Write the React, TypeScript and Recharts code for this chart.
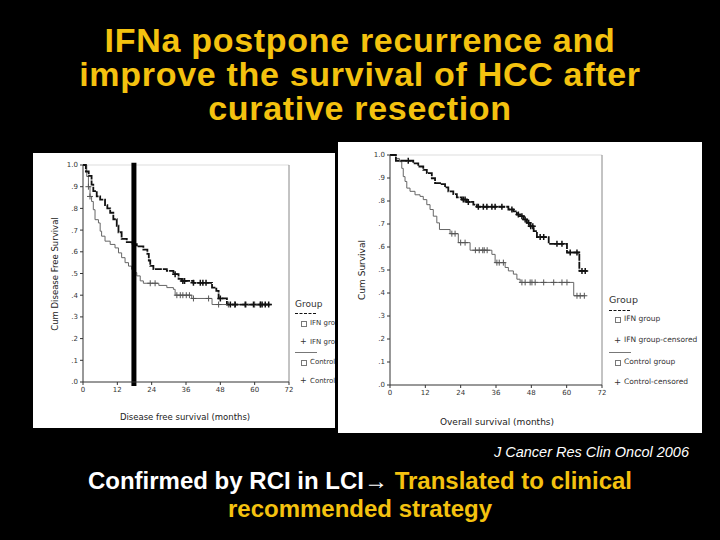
import { ComposedChart, Line, Scatter, XAxis, YAxis, ReferenceLine } from 'recharts'

const monthTicks = [0, 12, 24, 36, 48, 60, 72]
const survTicks = [0, 0.1, 0.2, 0.3, 0.4, 0.5, 0.6, 0.7, 0.8, 0.9, 1]
const survTickLabels = ['.0', '.1', '.2', '.3', '.4', '.5', '.6', '.7', '.8', '.9', '1.0']
const legendLabels = ['IFN group', 'IFN group-censored', 'Control group', 'Control-censored']

// disease free survival (left)
const dfsIfnTime = [0, 1, 2, 3, 3.6, 4.8, 6, 7.7, 8.5, 9.5, 10.6, 11.8, 12.4, 13.5, 15.3, 17, 18.8, 21.1, 22.5, 23, 23.5, 24.6, 29.3, 31.6, 33.4, 34.5, 38.6, 45.1, 46.6, 47.4, 50.3, 66]
const dfsIfnSurv = [1, 0.97, 0.95, 0.91, 0.88, 0.855, 0.84, 0.815, 0.8, 0.78, 0.75, 0.72, 0.69, 0.66, 0.645, 0.635, 0.625, 0.61, 0.59, 0.56, 0.535, 0.52, 0.512, 0.497, 0.475, 0.466, 0.457, 0.435, 0.42, 0.385, 0.357, 0.357]
const dfsIfnCensor = [32.2, 34.9, 35.5, 38.6, 41, 41.9, 43, 48, 51.5, 53.2, 56.7, 59.6, 62, 62.6, 63.7, 64.9]

const dfsCtrlTime = [0, 1.3, 1.9, 2.45, 3, 3.6, 4.2, 5.4, 6, 6.5, 7.7, 9.5, 11.2, 12.4, 13.5, 14.7, 15.9, 17, 17.9, 18.8, 20, 21.1, 26.5, 29.3, 31.6, 32.2, 38, 45.1, 66]
const dfsCtrlSurv = [1, 0.947, 0.9, 0.855, 0.832, 0.794, 0.748, 0.733, 0.695, 0.672, 0.649, 0.634, 0.618, 0.595, 0.573, 0.55, 0.534, 0.519, 0.504, 0.489, 0.466, 0.455, 0.445, 0.435, 0.427, 0.4, 0.385, 0.357, 0.357]
const dfsCtrlCensor = [1.9, 2.45, 23.5, 25.2, 32.8, 34, 34.9, 36.1, 37.2, 38.6, 43.9, 47.4, 50.8, 53, 57, 60, 62]

// overall survival (right)
const osIfnTime = [0, 2, 7.9, 9.6, 11.3, 12.5, 14.2, 15.3, 17, 18.7, 19.8, 21.5, 22.7, 24.4, 26.1, 28.3, 29.5, 40.2, 41.9, 43.1, 44.2, 45.4, 46.5, 47.6, 48.8, 49.9, 53.9, 60.1, 64.3, 67]
const osIfnSurv = [1, 0.975, 0.964, 0.95, 0.935, 0.921, 0.899, 0.878, 0.873, 0.859, 0.842, 0.83, 0.816, 0.806, 0.796, 0.784, 0.775, 0.763, 0.755, 0.741, 0.734, 0.72, 0.705, 0.69, 0.669, 0.643, 0.614, 0.576, 0.496, 0.496]
const osIfnCensor = [6.2, 24.9, 25.5, 26.6, 30, 31.7, 32.9, 34.6, 35.7, 38, 41.4, 43.6, 44.8, 45.9, 47.1, 47.8, 48.5, 51, 52.2, 56.7, 58.4, 61.2, 63.5, 65.2, 66.3]

const osCtrlTime = [0, 2, 3.2, 4, 4.5, 5.1, 5.7, 6.8, 8.5, 10.2, 11.3, 12.5, 13.6, 14.7, 15.9, 16.8, 20.4, 23.2, 27.2, 34.6, 35.7, 39.1, 40.2, 41.9, 43.1, 44.2, 62.4, 66.3]
const osCtrlSurv = [1, 0.985, 0.971, 0.942, 0.906, 0.885, 0.856, 0.842, 0.827, 0.82, 0.806, 0.784, 0.763, 0.734, 0.705, 0.676, 0.658, 0.619, 0.586, 0.568, 0.532, 0.511, 0.496, 0.482, 0.46, 0.446, 0.388, 0.388]
const osCtrlCensor = [21, 22.1, 24, 25.5, 29, 30.3, 31.5, 32, 33, 36.3, 37.1, 38.5, 44.8, 45.9, 47.6, 48.2, 49.3, 52.2, 55.6, 58.4, 60.1, 63.5, 64.6, 66]

const toSteps = (time: number[], surv: number[]) => time.map((t, i) => ({ t, s: surv[i] }))
const survAt = (time: number[], surv: number[], x: number) => {
  let s = surv[0]
  time.forEach((t, i) => {
    if (t <= x) s = surv[i]
  })
  return s
}
const toCensors = (time: number[], surv: number[], cens: number[]) =>
  cens.map((t) => ({ t, s: survAt(time, surv, t) }))

const plus = (color: string, w: number) => (props: any) => {
  const { cx, cy } = props
  return <path d={`M${cx - 3},${cy}h6M${cx},${cy - 3}v6`} stroke={color} strokeWidth={w} fill="none" />
}

const chartFont = 'DejaVu Sans, Verdana, sans-serif'

function KmChart(props: any) {
  const { width, height, margin, ifn, ctrl, bar } = props
  const tick = { fontSize: 7, fill: '#333', fontFamily: chartFont }
  return (
    <ComposedChart width={width} height={height} margin={margin}>
      <XAxis
        type="number"
        dataKey="t"
        domain={[0, 72]}
        ticks={monthTicks}
        interval={0}
        tickSize={3}
        height={25}
        tick={tick}
        stroke="#333"
      />
      <YAxis
        type="number"
        dataKey="s"
        domain={[0, 1]}
        ticks={survTicks}
        interval={0}
        tickSize={3}
        width={20}
        tick={tick}
        stroke="#333"
        tickFormatter={(v: number) => survTickLabels[Math.round(v * 10)]}
      />
      <ReferenceLine y={1} stroke="#ddd" />
      <ReferenceLine x={72} stroke="#888" />
      <Line data={ctrl.steps} dataKey="s" type="stepAfter" stroke="#666" strokeWidth={1} dot={false} isAnimationActive={false} />
      <Line data={ifn.steps} dataKey="s" type="stepAfter" stroke="#111" strokeWidth={1.8} strokeDasharray="7 1" dot={false} isAnimationActive={false} />
      <Scatter data={ctrl.censors} dataKey="s" shape={plus('#555', 1)} isAnimationActive={false} />
      <Scatter data={ifn.censors} dataKey="s" shape={plus('#111', 1.5)} isAnimationActive={false} />
      {bar != null && (
        <ReferenceLine
          segment={[{ x: bar, y: -0.018 }, { x: bar, y: 1.01 }]}
          stroke="#000"
          strokeWidth={5}
          ifOverflow="visible"
        />
      )}
    </ComposedChart>
  )
}

function GroupLegend({ x, rows, font }: { x: number; rows: number[]; font: number }) {
  const txt = (top: number, left: number, s: string, size: number) => (
    <div style={{ position: 'absolute', left, top: top - 7, lineHeight: '14px', fontSize: size, color: '#333', whiteSpace: 'nowrap', fontFamily: chartFont }}>
      {s}
    </div>
  )
  const square = (top: number) => (
    <div style={{ position: 'absolute', left: x + 6, top: top - 2.5, width: 4, height: 4, border: '0.8px solid #777' }} />
  )
  return (
    <>
      {txt(rows[0], x, 'Group', font + 2)}
      <div style={{ position: 'absolute', left: x, top: rows[1], width: 21, borderTop: '1.3px dashed #111' }} />
      {square(rows[2])}
      {txt(rows[2], x + 15, legendLabels[0], font)}
      {txt(rows[3], x + 5, '+', font + 1)}
      {txt(rows[3], x + 15, legendLabels[1], font)}
      <div style={{ position: 'absolute', left: x, top: rows[4], width: 22, borderTop: '1px solid #777' }} />
      {square(rows[5])}
      {txt(rows[5], x + 15, legendLabels[2], font)}
      {txt(rows[6], x + 5, '+', font + 1)}
      {txt(rows[6], x + 15, legendLabels[3], font)}
    </>
  )
}

const axisTitle = (cx: number, cy: number, s: string, size: number, rotate: boolean) => (
  <div
    style={{
      position: 'absolute',
      left: cx,
      top: cy,
      transform: `translate(-50%, -50%)${rotate ? ' rotate(-90deg)' : ''}`,
      fontSize: size,
      color: '#222',
      whiteSpace: 'nowrap',
      fontFamily: chartFont,
    }}
  >
    {s}
  </div>
)

export default function App() {
  const gold = '#F4C20F'
  return (
    <div style={{ position: 'fixed', left: 0, top: 0, width: 720, height: 540, background: '#000', fontFamily: 'Liberation Sans, Arial, sans-serif', overflow: 'hidden' }}>
      <div style={{ position: 'absolute', left: 0, top: 23, width: 720, textAlign: 'center', color: gold, fontWeight: 'bold', fontSize: 34, letterSpacing: 0.7, lineHeight: '34px' }}>
        IFNa postpone recurrence and
        <br />
        improve the survival of HCC after
        <br />
        curative resection
      </div>

      <div style={{ position: 'absolute', left: 33, top: 153, width: 302, height: 275, background: '#fff', overflow: 'hidden' }}>
        <KmChart
          width={302}
          height={275}
          margin={{ top: 12, right: 46, bottom: 21, left: 30 }}
          ifn={{ steps: toSteps(dfsIfnTime, dfsIfnSurv), censors: toCensors(dfsIfnTime, dfsIfnSurv, dfsIfnCensor) }}
          ctrl={{ steps: toSteps(dfsCtrlTime, dfsCtrlSurv), censors: toCensors(dfsCtrlTime, dfsCtrlSurv, dfsCtrlCensor) }}
          bar={17.8}
        />
        {axisTitle(22, 121, 'Cum Disease Free Survival', 8.5, true)}
        {axisTitle(152, 264, 'Disease free survival (months)', 8.5, false)}
        <GroupLegend x={262} rows={[151, 160, 170, 189, 199, 209, 228]} font={7} />
      </div>

      <div style={{ position: 'absolute', left: 338, top: 142, width: 364, height: 291, background: '#fff', overflow: 'hidden' }}>
        <KmChart
          width={364}
          height={291}
          margin={{ top: 13, right: 100, bottom: 23, left: 32 }}
          ifn={{ steps: toSteps(osIfnTime, osIfnSurv), censors: toCensors(osIfnTime, osIfnSurv, osIfnCensor) }}
          ctrl={{ steps: toSteps(osCtrlTime, osCtrlSurv), censors: toCensors(osCtrlTime, osCtrlSurv, osCtrlCensor) }}
        />
        {axisTitle(24, 128, 'Cum Survival', 9, true)}
        {axisTitle(159, 280, 'Overall survival (months)', 9, false)}
        <GroupLegend x={271} rows={[158, 168, 177, 198, 210, 220, 240]} font={7.5} />
      </div>

      <div style={{ position: 'absolute', right: 31, top: 444, color: '#fff', fontStyle: 'italic', fontSize: 14.5, lineHeight: '16px' }}>
        J Cancer Res Clin Oncol 2006
      </div>

      <div style={{ position: 'absolute', left: 0, top: 467, width: 720, textAlign: 'center', fontWeight: 'bold', fontSize: 24, lineHeight: '28px', color: '#fff' }}>
        Confirmed by RCI in LCI→ <span style={{ color: gold }}>Translated to clinical</span>
        <br />
        <span style={{ color: gold }}>recommended strategy</span>
      </div>
    </div>
  )
}
